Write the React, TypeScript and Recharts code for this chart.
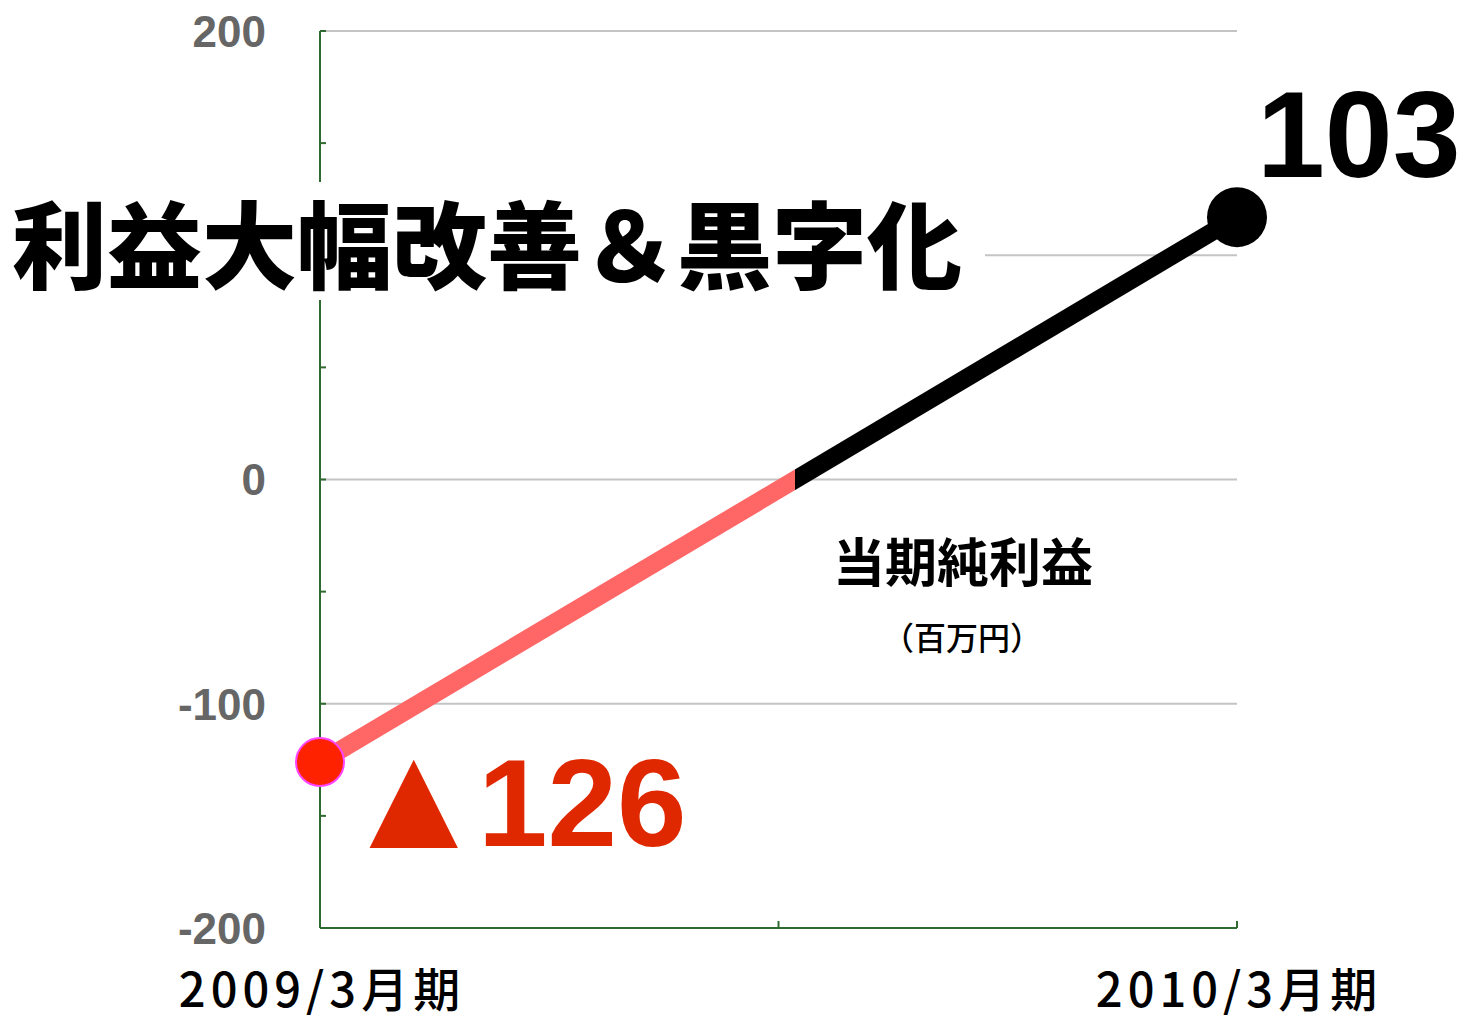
import { LineChart, Line, XAxis, YAxis, CartesianGrid } from "recharts";

// fiscal periods on the x axis
const periods = ["2009/3月期", "2010/3月期"];
// net income (million yen) — marker heights as drawn in the picture
const netIncome = [-126, 117];
// printed value labels
const valueLabels = ["126", "103"];
// y axis: marks every 50, gridlines every 100, labels where the title does not cover them
const yTicks = [-200, -150, -100, -50, 0, 50, 100, 150, 200];
const yGrid = [-100, 0, 100, 200];
const yLabelled = [-200, -100, 0, 200];
const xTicks = [0, 0.5, 1];

const data = periods.map((p, i) => ({ x: i, period: p, value: netIncome[i] }));

const COLORS = {
  axis: "#2f6b2f",
  grid: "#c4c4c4",
  tick: "#666666",
  loss: "#ff6666",
  lossDot: "#ff2200",
  lossDotEdge: "#ff44ff",
  lossText: "#e02800",
  profit: "#000000",
};

// where the line crosses zero, as a share of its width
const split = -netIncome[0] / (netIncome[1] - netIncome[0]);

const YTick = (props: any) => {
  const { x, y, payload } = props;
  const v = payload.value;
  return (
    <g>
      <line x1={x + 54} x2={x + 60} y1={y} y2={y} stroke={COLORS.axis} strokeWidth={2} />
      {yLabelled.includes(v) && (
        <text
          x={x}
          y={y}
          dy="0.36em"
          textAnchor="end"
          fill={COLORS.tick}
          fontFamily="'Liberation Sans', Arial, sans-serif"
          fontWeight={700}
          fontSize={44}
        >
          {v}
        </text>
      )}
    </g>
  );
};

const XTick = (props: any) => {
  const { x, y, payload } = props;
  const label = Number.isInteger(payload.value) ? periods[payload.value] : "";
  return (
    <g>
      <line x1={x} x2={x} y1={y} y2={y - 7} stroke={COLORS.axis} strokeWidth={2} />
      {label && (
        <text
          x={x + 2}
          y={y + 79}
          textAnchor="middle"
          fill="#000"
          fontFamily="'Noto Sans CJK JP', sans-serif"
          fontWeight={500}
          fontSize={47}
          letterSpacing={5}
        >
          {label}
        </text>
      )}
    </g>
  );
};

const Dot = (props: any) => {
  const { cx, cy, index } = props;
  if (index === 0)
    return (
      <circle key="d0" cx={cx} cy={cy} r={24} fill={COLORS.lossDot} stroke={COLORS.lossDotEdge} strokeWidth={2} />
    );
  return <circle key="d1" cx={cx} cy={cy} r={30} fill={COLORS.profit} />;
};

const ValueLabel = (props: any) => {
  const { x, y, index } = props;
  const common = {
    fontFamily: "'Liberation Sans', Arial, sans-serif",
    fontWeight: 700,
  };
  if (index === 0)
    return (
      <text x={x + 19} y={y + 86} fill={COLORS.lossText} {...common}>
        <tspan fontSize={151}>▲</tspan>
        <tspan x={x + 158} y={y + 84} fontSize={125}>
          {valueLabels[0]}
        </tspan>
      </text>
    );
  return (
    <text x={x + 20} y={y - 40} fill={COLORS.profit} fontSize={122} {...common}>
      {valueLabels[1]}
    </text>
  );
};

export default function App() {
  return (
    <div style={{ position: "absolute", left: 0, top: 0, width: 1465, height: 1021, background: "#fff" }}>
      <LineChart width={1465} height={1021} data={data} margin={{ top: 31, right: 228, bottom: 0, left: 0 }}>
        <defs>
          <linearGradient id="netGrad" x1="0" y1="0" x2="1" y2="0">
            <stop offset={split} stopColor={COLORS.loss} />
            <stop offset={split} stopColor={COLORS.profit} />
          </linearGradient>
        </defs>
        <CartesianGrid vertical={false} horizontalValues={yGrid} stroke={COLORS.grid} strokeWidth={2} />
        <XAxis
          dataKey="x"
          type="number"
          domain={[0, 1]}
          ticks={xTicks}
          height={93}
          tickSize={0}
          tickMargin={0}
          axisLine={{ stroke: COLORS.axis, strokeWidth: 2 }}
          tick={<XTick />}
          interval={0}
        />
        <YAxis
          type="number"
          domain={[-200, 200]}
          ticks={yTicks}
          width={320}
          tickSize={0}
          tickMargin={54}
          axisLine={{ stroke: COLORS.axis, strokeWidth: 2 }}
          tick={<YTick />}
          interval={0}
        />
        <Line
          dataKey="value"
          type="linear"
          stroke="url(#netGrad)"
          strokeWidth={18}
          dot={<Dot />}
          activeDot={false}
          label={<ValueLabel />}
          isAnimationActive={false}
        />
      </LineChart>

      <div
        style={{
          position: "absolute",
          left: 0,
          top: 182,
          width: 985,
          height: 118,
          background: "#fff",
          boxSizing: "border-box",
          paddingLeft: 12,
          fontFamily: "'Noto Sans CJK JP', sans-serif",
          fontWeight: 900,
          fontSize: 95,
          lineHeight: "118px",
          color: "#000",
          whiteSpace: "nowrap",
        }}
      >
        利益大幅改善＆黒字化
      </div>

      <div
        style={{
          position: "absolute",
          left: 963,
          top: 560,
          transform: "translate(-50%, -50%)",
          fontFamily: "'Noto Sans CJK JP', sans-serif",
          fontWeight: 700,
          fontSize: 52,
          lineHeight: 1,
          whiteSpace: "nowrap",
        }}
      >
        当期純利益
      </div>
      <div
        style={{
          position: "absolute",
          left: 962,
          top: 636,
          transform: "translate(-50%, -50%)",
          fontFamily: "'Noto Sans CJK JP', sans-serif",
          fontWeight: 500,
          fontSize: 32,
          lineHeight: 1,
          whiteSpace: "nowrap",
        }}
      >
        （百万円）
      </div>
    </div>
  );
}
